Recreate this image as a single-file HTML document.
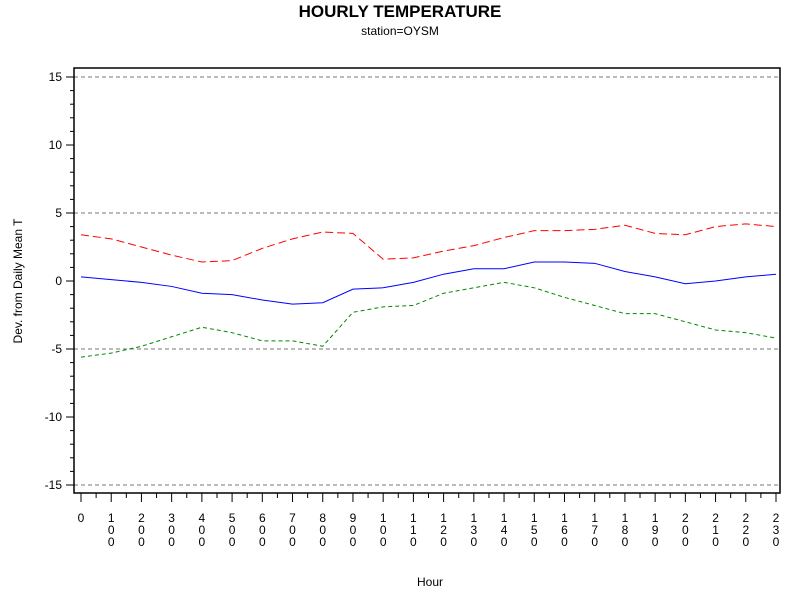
<!DOCTYPE html>
<html><head><meta charset="utf-8"><style>body{margin:0;background:#fff}svg{display:block}text{font-family:"Liberation Sans",Arial,sans-serif}</style></head>
<body>
<svg id="c" width="800" height="600">
<text x="400" y="17" text-anchor="middle" font-size="17" font-weight="bold">HOURLY TEMPERATURE</text>
<text x="400" y="35" text-anchor="middle" font-size="12">station=OYSM</text>
<text x="430" y="586" text-anchor="middle" font-size="12">Hour</text>
<text transform="translate(22,281) rotate(-90)" text-anchor="middle" font-size="12">Dev. from Daily Mean T</text>
<g id="g"></g>
<rect x="74" y="68" width="706" height="425" fill="none" stroke="#000" stroke-width="1.5"/>
</svg>
<script>
const hours=["0","100","200","300","400","500","600","700","800","900","1000","1100","1200","1300","1400","1500","1600","1700","1800","1900","2000","2100","2200","2300"];
const meanDev=[0.3,0.1,-0.1,-0.4,-0.9,-1.0,-1.4,-1.7,-1.6,-0.6,-0.5,-0.1,0.5,0.9,0.9,1.4,1.4,1.3,0.7,0.3,-0.2,0.0,0.3,0.5];
const upperDev=[3.4,3.1,2.5,1.9,1.4,1.5,2.4,3.1,3.6,3.5,1.6,1.7,2.2,2.6,3.2,3.7,3.7,3.8,4.1,3.5,3.4,4.0,4.2,4.0];
const lowerDev=[-5.6,-5.3,-4.8,-4.1,-3.4,-3.8,-4.4,-4.4,-4.8,-2.3,-1.9,-1.8,-0.9,-0.5,-0.1,-0.5,-1.2,-1.8,-2.4,-2.4,-3.0,-3.6,-3.8,-4.2];
const yTicks=[15,10,5,0,-5,-10,-15];
const refLines=[15,5,-5,-15];
const NS="http://www.w3.org/2000/svg",g=document.getElementById('g');
const X=i=>81+i*(776-81)/23, Y=v=>281-v*13.6;
function el(t,a){const e=document.createElementNS(NS,t);for(const k in a)e.setAttribute(k,a[k]);g.appendChild(e);return e;}
refLines.forEach(v=>{const e=el('line',{x1:74,x2:780,y1:Y(v),y2:Y(v),stroke:'#777','stroke-dasharray':'4,3'});

});
for(let v=-15;v<=15;v++){const e=el('line',{x1:v%5?70:66,x2:74,y1:Y(v),y2:Y(v),stroke:'#000'});

}
yTicks.forEach(v=>{const t=el('text',{x:62,y:Y(v)+4,'text-anchor':'end','font-size':12});t.textContent=v;

});
hours.forEach((h,i)=>{const e=el('line',{x1:X(i),x2:X(i),y1:493,y2:502,stroke:'#000'});


if(i<hours.length-1){const m=el('line',{x1:(X(i)+X(i+1))/2,x2:(X(i)+X(i+1))/2,y1:493,y2:498,stroke:'#000'});

}
h.slice(0,3).split('').forEach((c,j)=>{const t=el('text',{x:X(i),y:522+j*12,'text-anchor':'middle','font-size':12});t.textContent=c;

});});
function line(d,col,dash,name){const p=el('polyline',{points:d.map((v,i)=>X(i)+','+Y(v)).join(' '),fill:'none',stroke:col,'stroke-width':1,'stroke-dasharray':dash});

}
line(upperDev,'#f00','8,4','upper-series-line');
line(lowerDev,'#080','4,3','lower-series-line');
line(meanDev,'#00f','none','mean-series-line');
</script>
</body></html>
